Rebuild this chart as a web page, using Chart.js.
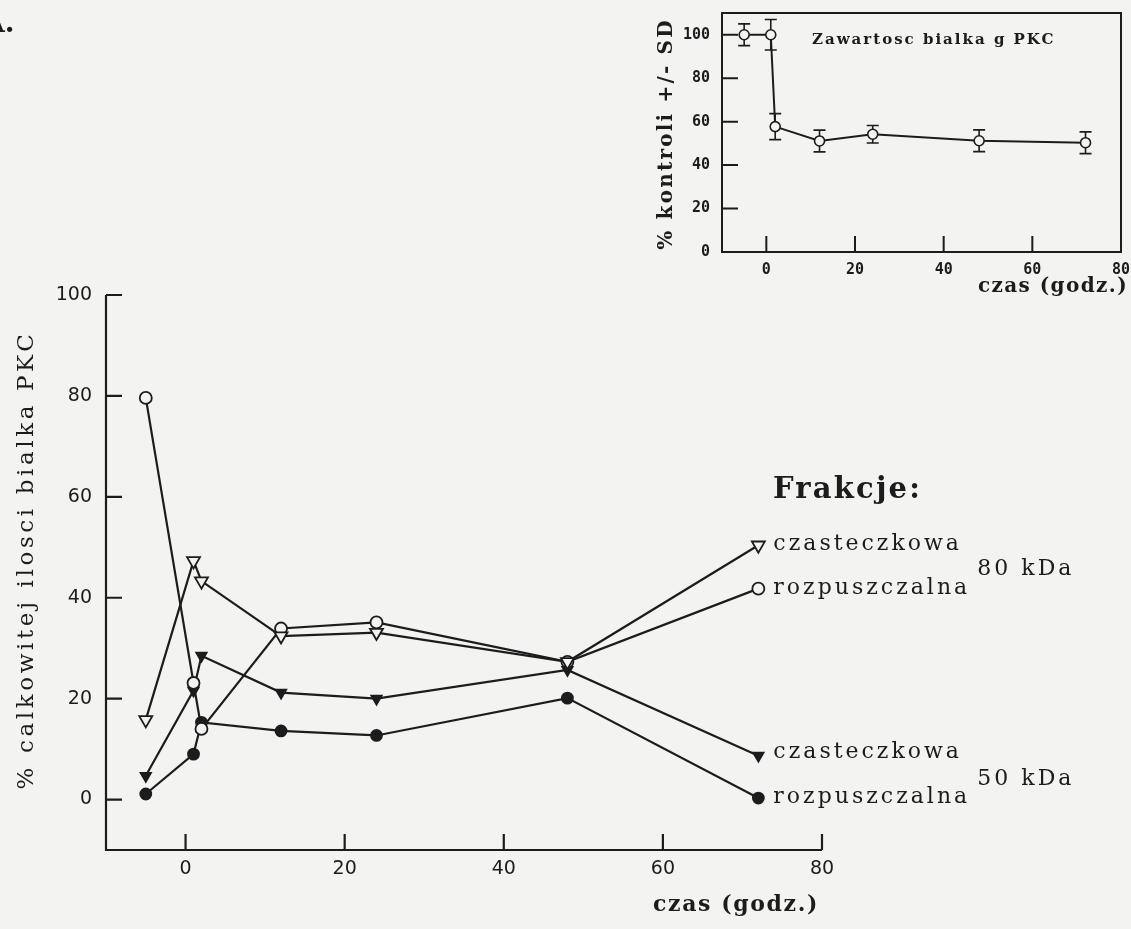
<!DOCTYPE html>
<html>
<head>
<meta charset="utf-8">
<title>PKC</title>
<script src="https://cdn.jsdelivr.net/npm/chart.js@4.4.1/dist/chart.umd.min.js"></script>
<style>
  html, body { margin: 0; padding: 0; background: #f3f3f1; }
  #wrap { position: relative; width: 1131px; height: 929px; overflow: hidden; }
  #wrap canvas { position: absolute; left: 0; top: 0; }
</style>
</head>
<body>
<div id="wrap">
  <canvas id="main" width="1131" height="929"></canvas>
  <canvas id="inset" width="1131" height="929"></canvas>
</div>
<script>
// main chart: % of total PKC protein per fraction
const hours = [-5, 1, 2, 12, 24, 48, 72];
const particulate80 = [15.8, 47.3, 43.3, 32.4, 33.1, 27.3, 50.4];
const soluble80 = [79.6, 23.1, 14.0, 33.9, 35.1, 27.3, 41.8];
const particulate50 = [4.7, 21.6, 28.5, 21.2, 20.0, 25.7, 8.7];
const soluble50 = [1.1, 9.0, 15.3, 13.6, 12.7, 20.1, 0.3];
const fractionNames = ['czasteczkowa', 'rozpuszczalna', 'czasteczkowa', 'rozpuszczalna'];
const groupNames = ['80 kDa', '50 kDa'];
const xTicks = [0, 20, 40, 60, 80];
const yTicks = [0, 20, 40, 60, 80, 100];

// inset: PKC protein content, % of control +/- SD
const insetHours = [-5, 1, 2, 12, 24, 48, 72];
const insetContent = [100, 100, 57.7, 51.1, 54.2, 51.2, 50.3];
const insetSD = [5, 7, 6, 5, 4, 5, 5];
const insetXTicks = [0, 20, 40, 60, 80];
const insetYTicks = [0, 20, 40, 60, 80, 100];

const INK = '#1c1c1c';
const PAPER = '#f3f3f1';
const SERIF = '"DejaVu Serif", serif';
const SANS = '"DejaVu Sans", sans-serif';
const MONO = '"DejaVu Sans Mono", monospace';

function pts(xs, ys) {
    return xs.map((x, i) => ({ x: x, y: ys[i] }));
}

// axis lines, inward ticks and tick labels
const framePlugin = {
    id: 'frame',
    afterDraw(chart, args, o) {
        const ctx = chart.ctx, a = chart.chartArea;
        const xs = chart.scales.x, ys = chart.scales.y;
        ctx.save();
        ctx.strokeStyle = INK;
        ctx.lineWidth = o.lineWidth;
        ctx.beginPath();
        if (o.box) {
            ctx.rect(a.left, a.top, a.right - a.left, a.bottom - a.top);
        } else {
            ctx.moveTo(a.left, a.top);
            ctx.lineTo(a.left, a.bottom);
            ctx.lineTo(a.right, a.bottom);
        }
        o.yTicks.forEach(v => {
            const y = ys.getPixelForValue(v);
            ctx.moveTo(a.left, y);
            ctx.lineTo(a.left + o.tickLen, y);
        });
        o.xTicks.forEach(v => {
            const x = xs.getPixelForValue(v);
            ctx.moveTo(x, a.bottom);
            ctx.lineTo(x, a.bottom - o.tickLen);
        });
        ctx.stroke();

        ctx.fillStyle = INK;
        ctx.font = o.tickFont;
        ctx.textBaseline = 'middle';
        ctx.textAlign = 'right';
        o.yTicks.forEach(v => ctx.fillText(String(v), a.left - o.yGap, ys.getPixelForValue(v)));
        ctx.textAlign = 'center';
        o.xTicks.forEach(v => ctx.fillText(String(v), xs.getPixelForValue(v), a.bottom + o.xGap));
        ctx.restore();
    }
};

// free text: axis titles etc.
const textPlugin = {
    id: 'texts',
    afterDraw(chart, args, o) {
        const ctx = chart.ctx;
        o.items.forEach(t => {
            ctx.save();
            ctx.fillStyle = INK;
            ctx.font = t.font;
            ctx.letterSpacing = t.spacing || '0px';
            ctx.textAlign = t.align || 'left';
            ctx.textBaseline = 'middle';
            ctx.translate(t.x, t.y);
            if (t.rotate) ctx.rotate(t.rotate);
            ctx.fillText(t.text, 0, 0);
            ctx.restore();
        });
    }
};

// labels next to the last point of every series
const endLabels = {
    id: 'endLabels',
    afterDatasetsDraw(chart, args, o) {
        const ctx = chart.ctx;
        const ends = chart.data.datasets.map((ds, i) => {
            const d = chart.getDatasetMeta(i).data;
            return d[d.length - 1];
        });
        ctx.save();
        ctx.fillStyle = INK;
        ctx.font = o.font;
        ctx.letterSpacing = o.spacing;
        ctx.textAlign = 'left';
        ctx.textBaseline = 'middle';
        chart.data.datasets.forEach((ds, i) => {
            ctx.fillText(ds.label, ends[i].x + o.gap, ends[i].y + (ds.labelShift || 0));
        });
        groupNames.forEach((g, k) => {
            const p1 = ends[2 * k], p2 = ends[2 * k + 1];
            ctx.fillText(g, p1.x + o.groupGap, (p1.y + p2.y) / 2 + 2);
        });
        ctx.restore();
    }
};

// vertical SD bars for the inset
const errorBars = {
    id: 'errorBars',
    beforeDatasetsDraw(chart, args, o) {
        const ctx = chart.ctx, ys = chart.scales.y;
        const d = chart.getDatasetMeta(0).data;
        ctx.save();
        ctx.strokeStyle = INK;
        ctx.lineWidth = 1.6;
        ctx.beginPath();
        d.forEach((p, i) => {
            const t = ys.getPixelForValue(insetContent[i] + insetSD[i]);
            const b = ys.getPixelForValue(insetContent[i] - insetSD[i]);
            ctx.moveTo(p.x, t); ctx.lineTo(p.x, b);
            ctx.moveTo(p.x - o.cap, t); ctx.lineTo(p.x + o.cap, t);
            ctx.moveTo(p.x - o.cap, b); ctx.lineTo(p.x + o.cap, b);
        });
        ctx.stroke();
        ctx.restore();
    }
};

function series(label, values, style, filled, radius, shift) {
    return {
        label: label,
        data: pts(hours, values),
        borderColor: INK,
        borderWidth: 2.2,
        pointStyle: style,
        pointRotation: style === 'triangle' ? 180 : 0,
        pointRadius: radius,
        pointBorderWidth: 1.8,
        pointBorderColor: INK,
        pointBackgroundColor: filled ? INK : PAPER,
        tension: 0,
        clip: false,
        labelShift: shift
    };
}

new Chart(document.getElementById('main'), {
    type: 'line',
    data: {
        datasets: [
            series(fractionNames[0], particulate80, 'triangle', false, 7.5, -1),
            series(fractionNames[1], soluble80, 'circle', false, 6, 0),
            series(fractionNames[2], particulate50, 'triangle', true, 6, -3),
            series(fractionNames[3], soluble50, 'circle', true, 5.5, -1)
        ]
    },
    options: {
        responsive: false,
        animation: false,
        events: [],
        layout: { padding: { left: 106, top: 295, right: 309, bottom: 79 } },
        scales: {
            x: { type: 'linear', min: -10, max: 80, display: false },
            y: { type: 'linear', min: -10, max: 100, display: false }
        },
        plugins: {
            legend: { display: false },
            tooltip: { enabled: false },
            frame: {
                box: false, lineWidth: 2.2, tickLen: 16,
                xTicks: xTicks, yTicks: yTicks,
                tickFont: '19px ' + SANS, yGap: 14, xGap: 19
            },
            endLabels: { font: '22px ' + SERIF, spacing: '3px', gap: 15, groupGap: 219 },
            texts: {
                items: [
                    { text: '% calkowitej ilosci bialka PKC', x: 27, y: 560, rotate: -Math.PI / 2,
                      align: 'center', font: '23px ' + SERIF, spacing: '3.6px' },
                    { text: 'czas (godz.)', x: 736, y: 905, align: 'center',
                      font: 'bold 22px ' + SERIF, spacing: '1.6px' },
                    { text: 'Frakcje:', x: 773, y: 490, font: 'bold 29px ' + SERIF, spacing: '2.2px' },
                    { text: 'A.', x: -17, y: 25, font: 'bold 28px ' + SERIF }
                ]
            }
        }
    },
    plugins: [framePlugin, endLabels, textPlugin]
});

new Chart(document.getElementById('inset'), {
    type: 'line',
    data: {
        datasets: [{
            label: 'Zawartosc bialka g PKC',
            data: pts(insetHours, insetContent),
            borderColor: INK,
            borderWidth: 2,
            pointStyle: 'circle',
            pointRadius: 5,
            pointBorderWidth: 1.6,
            pointBorderColor: INK,
            pointBackgroundColor: PAPER,
            tension: 0,
            clip: false
        }]
    },
    options: {
        responsive: false,
        animation: false,
        events: [],
        layout: { padding: { left: 722, top: 13, right: 10, bottom: 677 } },
        scales: {
            x: { type: 'linear', min: -10, max: 80, display: false },
            y: { type: 'linear', min: 0, max: 110, display: false }
        },
        plugins: {
            legend: { display: false },
            tooltip: { enabled: false },
            errorBars: { cap: 6 },
            frame: {
                box: true, lineWidth: 2, tickLen: 16,
                xTicks: insetXTicks, yTicks: insetYTicks,
                tickFont: 'bold 15px ' + MONO, yGap: 12, xGap: 18
            },
            texts: {
                items: [
                    { text: 'Zawartosc bialka g PKC', x: 812, y: 40, font: 'bold 15px ' + SERIF, spacing: '2px' },
                    { text: '% kontroli +/- SD', x: 667, y: 134, rotate: -Math.PI / 2,
                      align: 'center', font: 'bold 20px ' + SERIF, spacing: '2.2px' },
                    { text: 'czas (godz.)', x: 1128, y: 287, align: 'right',
                      font: 'bold 20px ' + SERIF, spacing: '1.4px' }
                ]
            }
        }
    },
    plugins: [errorBars, framePlugin, textPlugin]
});
</script>
</body>
</html>
